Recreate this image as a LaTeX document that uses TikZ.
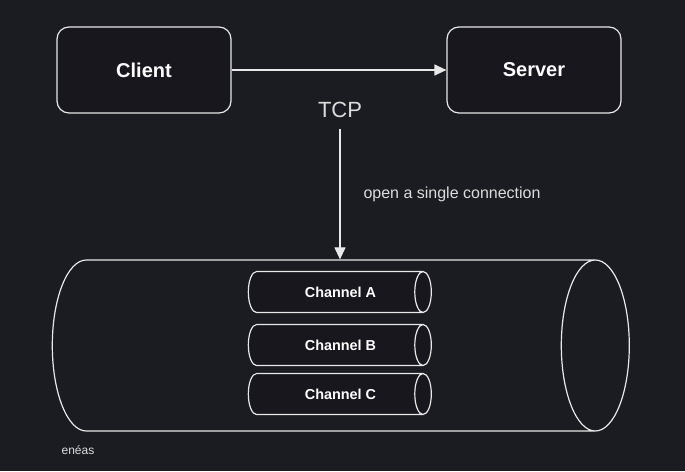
\documentclass[tikz,border=0pt]{standalone}
\usepackage{fontspec}
\setmainfont{Liberation Sans}
\usetikzlibrary{shapes.geometric,arrows.meta}
\definecolor{bgdark}{RGB}{27,28,34}
\definecolor{boxfill}{RGB}{24,23,29}
\definecolor{linegray}{RGB}{232,232,232}
\definecolor{textgray}{RGB}{220,220,220}
\begin{document}
\begin{tikzpicture}[x=1pt, y=-1pt, >={Triangle[length=12pt,width=11pt]},
		hostbox/.style={draw=linegray, fill=boxfill, line width=1.2pt, rounded corners=12pt,
			minimum width=174pt, minimum height=86pt, text=white,
			font=\bfseries\fontsize{20}{22}\selectfont},
		tube/.style={cylinder, draw=linegray, line width=1.2pt, aspect=0.4, inner ysep=85pt,
			minimum height=577pt, minimum width=171pt},
		channel/.style={cylinder, draw=linegray, fill=boxfill, line width=1.2pt, aspect=0.44,
			inner ysep=13.5pt, minimum height=183pt, minimum width=41pt, text=white,
			font=\bfseries\fontsize{14.4}{16}\selectfont}]
		\fill[bgdark] (0,0) rectangle (685,471);
		\useasboundingbox (0,0) rectangle (685,471);

		\node[hostbox] (client) at (144,70) {Client};
		\node[hostbox] (server) at (534,70) {Server};
		\draw[->, linegray, line width=1.2pt] (client) -- (server);

		\node[text=textgray, font=\fontsize{22}{24}\selectfont] (tcp) at (340,110) {TCP};
		\node[tube] (pipe) at (306.5,345.5) {};
		\draw[->, linegray, line width=1.2pt] ([yshift=-8pt]tcp.south) -- (tcp.south |- pipe.north);
		\node[anchor=west, text=textgray, font=\fontsize{16}{18}\selectfont] (note) at (360,194) {open a single connection};

		\foreach \name/\y in {A/292,B/345,C/394}{
			\node[channel] (chan\name) at (331.5,\y) {\hspace*{18pt}Channel \name};
		}

		\node[text=textgray, font=\fontsize{12}{13}\selectfont] (sign) at (78,450) {enéas};
	\end{tikzpicture}
\end{document}
